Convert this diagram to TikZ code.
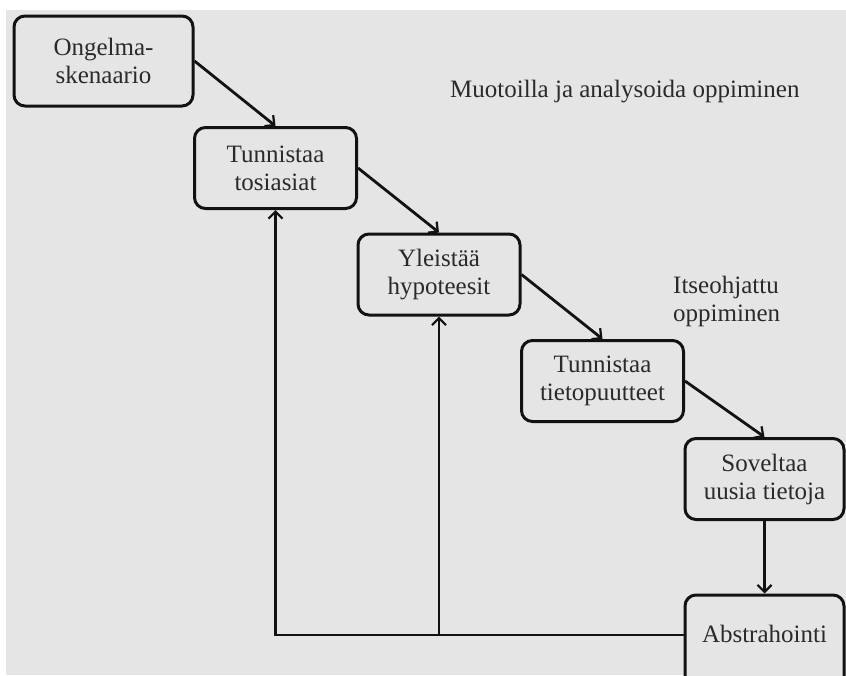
\documentclass[tikz,border=0pt]{standalone}
\usepackage{fontspec}
\setmainfont{Liberation Serif}
\usepackage{xcolor}
\usetikzlibrary{arrows.meta}
\definecolor{bggray}{HTML}{E5E5E5}
\definecolor{textgray}{HTML}{2A2A2A}
\definecolor{linegray}{HTML}{121212}
\tikzset{stage/.style={draw=linegray,line width=3pt,rounded corners=11pt,
	fill=bggray,text=textgray,align=center,inner sep=0pt,
	font=\fontsize{25}{28}\selectfont,minimum width=162pt,minimum height=81pt},
	note/.style={text=textgray,align=left,inner sep=0pt,
	font=\fontsize{25}{28}\selectfont},
	flow/.style={draw=linegray,line width=2.8pt,
	-{Straight Barb[length=7pt,width=14pt,line width=2.2pt]}}}

\begin{document}
\begin{tikzpicture}[x=1pt,y=-1pt]
\useasboundingbox (0,0) rectangle (846,675);
\fill[white] (0,0) rectangle (846,675);
\fill[bggray] (6,10) rectangle (846,675);
\node [stage,minimum width=179pt,minimum height=90pt] (ongelma) at (103.5,61) {Ongelma-\\skenaario};
\node [stage] (tosiasiat) at (275.5,168) {Tunnistaa\\tosiasiat};
\node [stage] (hypoteesit) at (439,274.5) {Yleistää\\hypoteesit};
\node [stage] (puutteet) at (602.5,381) {Tunnistaa\\tietopuutteet};
\node [stage,minimum width=159pt] (soveltaa) at (764.5,479) {Soveltaa\\uusia tietoja};
\node [stage,minimum width=159pt,text height=47pt,text depth=48pt,anchor=base] (abstrahointi) at (764.5,642) {Abstrahointi};
\node [note,anchor=base west] (muotoilla) at (450,97) {Muotoilla ja analysoida oppiminen};
\node [note,anchor=west] (itseohjattu) at (673,301.5) {Itseohjattu\\oppiminen};
\draw [flow] (ongelma.east) -- (tosiasiat.north);
\draw [flow] (tosiasiat.east) -- (hypoteesit.north);
\draw [flow] (hypoteesit.east) -- (puutteet.north);
\draw [flow] (puutteet.east) -- (soveltaa.north);
\draw [flow] (soveltaa.south) -- (abstrahointi.north);
\draw [flow] (abstrahointi.west |- 0,635) -| (tosiasiat.south);
\draw [flow] (hypoteesit.south |- 0,635) -- (hypoteesit.south);
\end{tikzpicture}
\end{document}
